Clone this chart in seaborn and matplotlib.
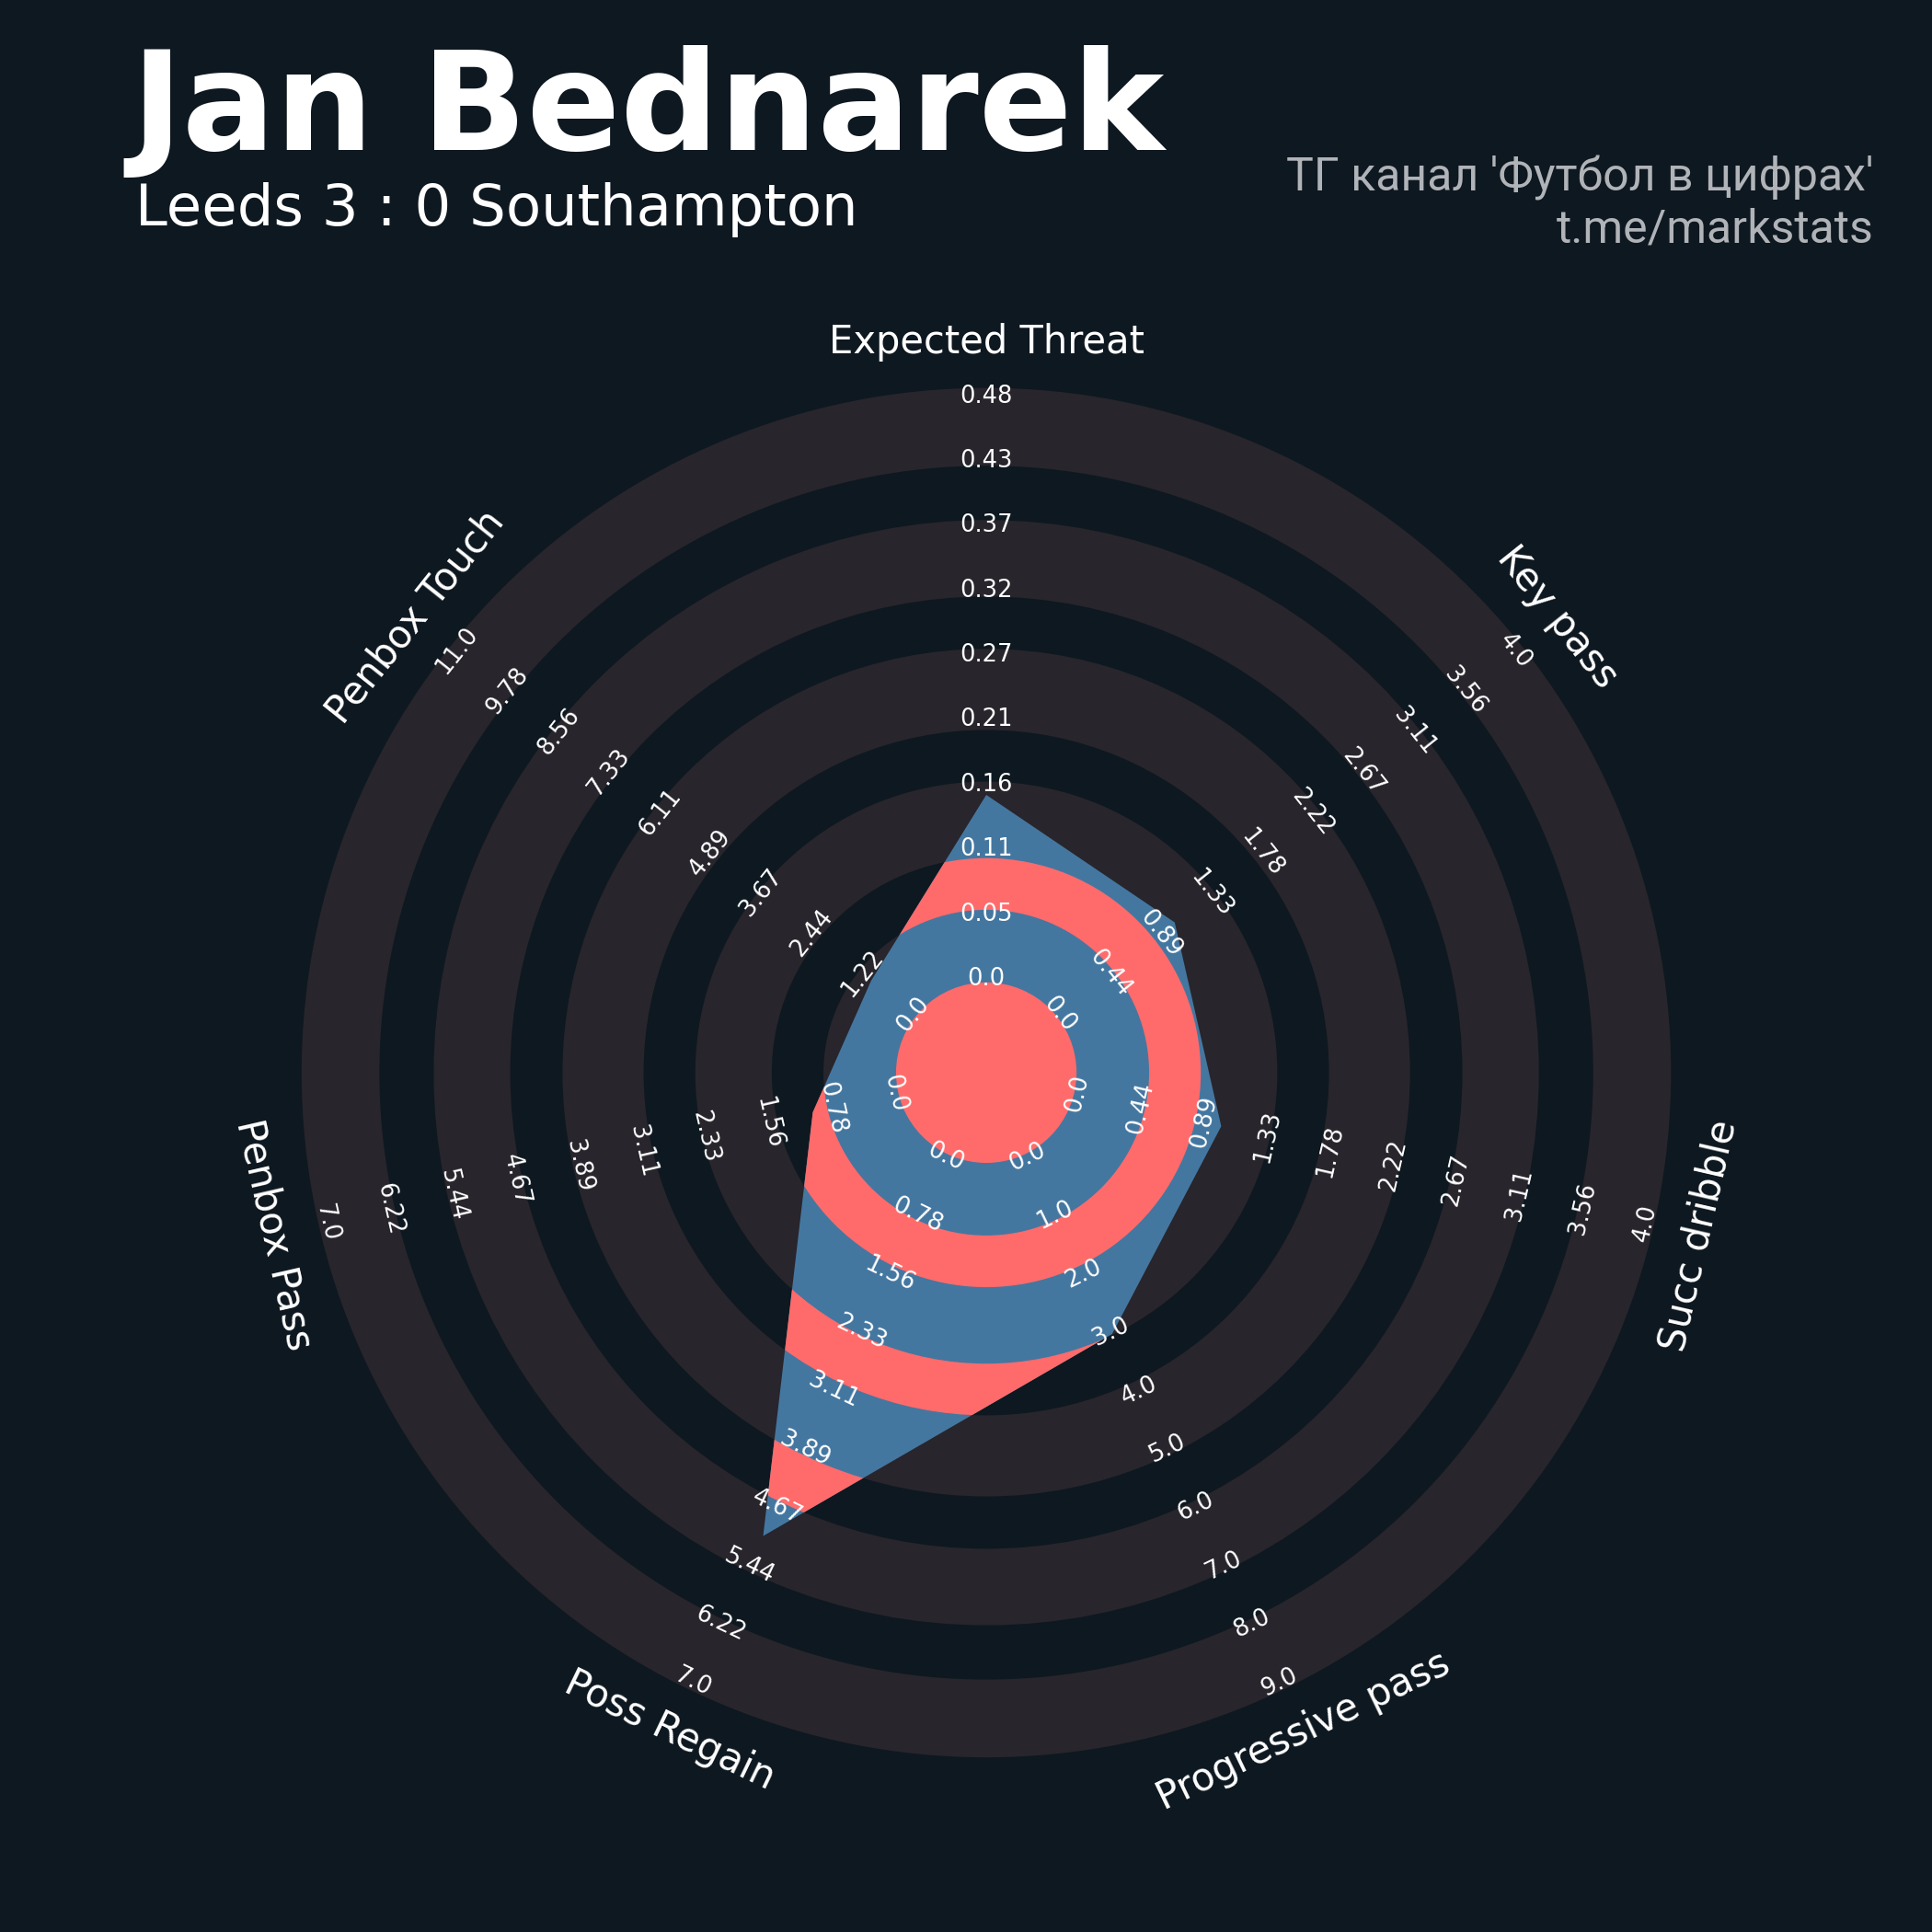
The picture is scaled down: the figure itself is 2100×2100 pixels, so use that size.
import numpy as np
import matplotlib
matplotlib.use("Agg")
import matplotlib.pyplot as plt
from matplotlib.patches import Polygon, Circle, Wedge
import seaborn as sns

# ---------------- data ----------------
params = ["Expected Threat", "Key pass", "Succ dribble", "Progressive pass",
          "Poss Regain", "Penbox Pass", "Penbox Touch"]
range_low = [0, 0, 0, 0, 0, 0, 0]
range_high = [0.48, 4, 4, 9, 7, 7, 11]
values = [0.15, 1, 1, 3, 5, 1, 1]

title_text = "Jan Bednarek"
subtitle_text = "Leeds 3 : 0 Southampton"
credit_line1 = "ТГ канал 'Футбол в цифрах'"
credit_line2 = "t.me/markstats"

# ---------------- style ----------------
BG = "#0E1820"
RING = "#28252C"
BLUE = "#4477A0"
RED = "#FF6B6B"
WHITE = "#FFFFFF"
CREDIT = "#B0B3B8"

sns.set_theme(style="dark", rc={"axes.facecolor": BG, "figure.facecolor": BG})
plt.rcParams["font.family"] = ["DejaVu Sans"]

R0 = 1.435          # radius of the lowest range value
NSTEP = 9           # number of range steps (10 labels)
LABEL_STEP = 0.99   # radial spacing of range labels
band_in = [1.38, 3.28, 5.24, 7.28, 9.28]
band_out = [2.49, 4.45, 6.48, 8.45, 10.47]
LABEL_R = 11.17
LIM = 12.0

fig = plt.figure(figsize=(7, 7), dpi=300, facecolor=BG)
ax = fig.add_axes([0.1043, 0.0386, 0.8124, 0.8124])
ax.set_xlim(-LIM, LIM)
ax.set_ylim(-LIM, LIM)
ax.set_aspect("equal")
ax.set_axis_off()

n = len(params)
theta = np.arange(n) * 2 * np.pi / n  # clockwise from top


def to_xy(r, t):
    return r * np.sin(t), r * np.cos(t)


# background rings
for ri, ro in zip(band_in, band_out):
    ax.add_patch(Wedge((0, 0), ro, 0, 360, width=ro - ri, fc=RING, ec="none", zorder=1))

# radar polygon
frac = [(v - lo) / (hi - lo) for v, lo, hi in zip(values, range_low, range_high)]
radii = [R0 + NSTEP * f for f in frac]
verts = np.array([to_xy(r, t) for r, t in zip(radii, theta)])
radar = Polygon(verts, closed=True, fc=BLUE, ec="none", zorder=3)
ax.add_patch(radar)

# alternate colour inside polygon
inner = Circle((0, 0), band_in[0], fc=RED, ec="none", zorder=4)
ax.add_patch(inner)
inner.set_clip_path(radar)
for i in range(len(band_out)):
    ri = band_out[i]
    ro = band_in[i + 1] if i + 1 < len(band_in) else LIM * 1.5
    w = Wedge((0, 0), ro, 0, 360, width=ro - ri, fc=RED, ec="none", zorder=4)
    ax.add_patch(w)
    w.set_clip_path(radar)


def rot_for(t):
    deg = np.degrees(t)
    if 90 < deg < 270:
        return 180 - deg
    return -deg


# range labels
for lo, hi, t in zip(range_low, range_high, theta):
    rot = rot_for(t)
    for k in range(NSTEP + 1):
        val = lo + k * (hi - lo) / NSTEP
        x, y = to_xy(R0 + LABEL_STEP * k, t)
        ax.text(x, y, str(round(val, 2)), color=WHITE, fontsize=6.2,
                ha="center", va="center", rotation=rot, rotation_mode="anchor", zorder=6)

# parameter labels
for p, t in zip(params, theta):
    x, y = to_xy(LABEL_R, t)
    ax.text(x, y, p, color=WHITE, fontsize=10, ha="center", va="center",
            rotation=rot_for(t), rotation_mode="anchor", zorder=6)

# titles
fig.text(0.068, 0.9224, title_text, color=WHITE, fontsize=36, fontweight="bold",
         ha="left", va="baseline")
fig.text(0.070, 0.8833, subtitle_text, color=WHITE, fontsize=15,
         ha="left", va="baseline")
fig.text(0.970, 0.9011, credit_line1, color=CREDIT, fontsize=12,
         ha="right", va="baseline", family=["Roboto", "DejaVu Sans"])
fig.text(0.970, 0.8743, credit_line2, color=CREDIT, fontsize=12,
         ha="right", va="baseline", family=["Roboto", "DejaVu Sans"])

fig.savefig("out.png", dpi=300, facecolor=BG)
